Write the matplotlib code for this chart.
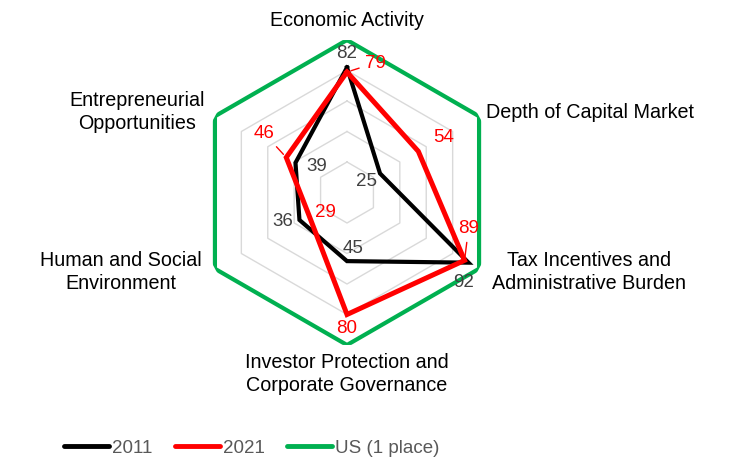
import numpy as np
import matplotlib
matplotlib.use("Agg")
import matplotlib.pyplot as plt

plt.rcParams['font.family'] = ['Liberation Sans', 'DejaVu Sans']

# ---- data ----
categories = ["Economic Activity",
              "Depth of Capital Market",
              "Tax Incentives and\nAdministrative Burden",
              "Investor Protection and\nCorporate Governance",
              "Human and Social\nEnvironment",
              "Entrepreneurial\nOpportunities"]
values_2011 = [82, 25, 92, 45, 36, 39]
values_2021 = [79, 54, 89, 80, 29, 46]
values_us = [100, 100, 100, 100, 100, 100]
grid_levels = [20, 40, 60, 80]
series_names = ["2011", "2021", "US (1 place)"]

# ---- styles / positions ----
W, H = 736, 458
cx, cy, R = 347, 192.5, 152.5
col_2011, col_2021, col_us = "#000000", "#FF0000", "#00B050"
lab_gray = "#404040"
fs_cat = 14.2
fs_val = 13.5
fs_leg = 13.5

cat_offsets = [(0, -20, 'center'), (7, -4, 'left'), (110, 3, 'center'),
               (0, 29, 'center'), (-94, 3, 'center'), (-78, -4, 'center')]
off_2011 = [(0, -14), (-14, 8), (-5, 20), (6, -13), (-17, 2), (21, 4)]
off_2021 = [(28, -9), (25, -14), (4, -32), (0, 14), (17, -2), (-22, -24)]
leader_2021 = [True, False, True, False, False, True]

fig = plt.figure(figsize=(W / 100, H / 100), dpi=100)
ax = fig.add_axes([(cx - R) / W, 1 - (cy + R) / H, 2 * R / W, 2 * R / H],
                  projection='polar')
ax.set_theta_offset(np.pi / 2)
ax.set_theta_direction(-1)
ax.set_ylim(0, 100)
ax.grid(False)
ax.spines['polar'].set_visible(False)
ax.set_xticks([])
ax.set_yticks([])
ax.patch.set_visible(False)

n = len(categories)
theta = np.linspace(0, 2 * np.pi, n, endpoint=False)
theta_c = np.append(theta, theta[0])

def closed(v):
    return np.append(v, v[0])

for lv in grid_levels:
    ax.plot(theta_c, closed([lv] * n), color="#D9D9D9", lw=1.0, zorder=1)

l1, = ax.plot(theta_c, closed(values_2011), color=col_2011, lw=3.0,
              solid_joinstyle='miter', zorder=3, label=series_names[0])
l2, = ax.plot(theta_c, closed(values_2021), color=col_2021, lw=3.6,
              solid_joinstyle='miter', zorder=4, label=series_names[1])
l3, = ax.plot(theta_c, closed(values_us), color=col_us, lw=3.0,
              solid_joinstyle='miter', zorder=5, label=series_names[2])

for t, name, (dx, dy, ha) in zip(theta, categories, cat_offsets):
    ax.annotate(name, xy=(t, 100), xytext=(dx, -dy), textcoords='offset pixels',
                ha=ha, va='center', fontsize=fs_cat, color='black',
                multialignment='center', linespacing=1.25, annotation_clip=False)

for t, v, (dx, dy) in zip(theta, values_2011, off_2011):
    ax.annotate(str(v), xy=(t, v), xytext=(dx, -dy), textcoords='offset pixels',
                ha='center', va='center', fontsize=fs_val, color=lab_gray, zorder=6)

for t, v, (dx, dy), ld in zip(theta, values_2021, off_2021, leader_2021):
    ap = dict(arrowstyle='-', color=col_2021, lw=1.0, shrinkA=2, shrinkB=3) if ld else None
    ax.annotate(str(v), xy=(t, v), xytext=(dx, -dy), textcoords='offset pixels',
                ha='center', va='center', fontsize=fs_val, color=col_2021,
                arrowprops=ap, zorder=6)

leg = fig.legend(handles=[l1, l2, l3], loc='center',
                 bbox_to_anchor=(252 / W, 1 - 448 / H), ncol=3, frameon=False,
                 fontsize=fs_leg, handlelength=2.4, handletextpad=0.15,
                 columnspacing=1.2, labelcolor="#595959")
for h in leg.legend_handles:
    h.set_linewidth(3.5)
    h.set_solid_capstyle('round')

fig.savefig("out.png", dpi=100)
